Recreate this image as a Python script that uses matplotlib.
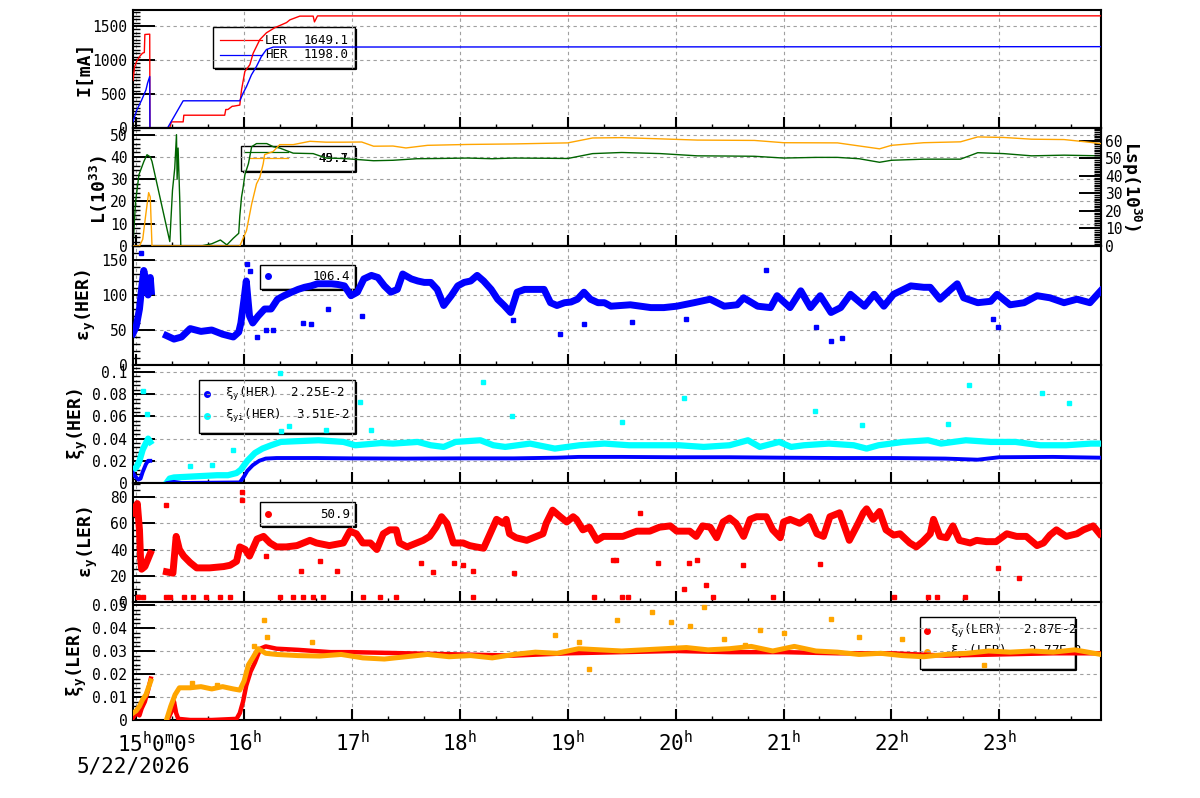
import matplotlib
matplotlib.use('Agg')
import matplotlib.pyplot as plt
from matplotlib.ticker import MultipleLocator
from matplotlib.patches import Rectangle

nan = float('nan')

# time axis: hours after 15:00 on 5/22/2026
hour_labels = ['16', '17', '18', '19', '20', '21', '22', '23']
date_label = '5/22/2026'

# beam currents [mA]
cur_ler_t = [-0.03, -0.015, 0.004, 0.033, 0.058, 0.075, 0.08, 0.125, 0.127, 0.31, 0.326, 0.435, 0.441,
             0.82, 0.83, 0.85, 0.89, 0.9, 0.96, 0.976, 1.007, 1.053, 1.084, 1.146, 1.207, 1.285, 1.393,
             1.424, 1.516, 1.64, 1.652, 1.665, 1.68, 8.94]
cur_ler = [700, 900, 980, 1055, 1100, 1110, 1375, 1380, 0, 0, 90, 90, 188, 188, 272, 272, 320, 320,
           337, 560, 832, 930, 1100, 1300, 1400, 1475, 1550, 1590, 1645, 1645, 1560, 1600, 1648, 1649]
cur_her_t = [-0.03, 0.004, 0.05, 0.09, 0.105, 0.125, 0.127, 0.29, 0.435, 0.96, 0.99, 1.022, 1.068,
             1.115, 1.161, 1.207, 1.27, 8.94]
cur_her = [92, 260, 410, 560, 660, 757, 0, 0, 400, 400, 510, 609, 782, 906, 1054, 1154, 1190, 1196]
cur_legend = ['1649.1', '1198.0']

# luminosity L (10^33) and specific luminosity Lsp (10^30)
lum_pts = [(-0.03, 0), (-0.006, 20), (0.025, 32), (0.071, 38), (0.1, 41), (0.13, 40), (0.146, 38),
           (0.311, 2), (0.336, 25), (0.357, 35), (0.373, 50), (0.379, 30), (0.388, 44), (0.404, 20),
           (0.413, 0), (0.6, 0), (0.7, 1), (0.78, 2.7), (0.84, 0.5), (0.9, 3.5), (0.95, 5.7),
           (0.96, 13.5), (0.976, 22), (0.99, 26), (1.007, 32), (1.04, 37), (1.07, 44.6), (1.115, 46),
           (1.21, 46), (1.27, 44.6), (1.33, 44), (1.455, 41.7), (1.64, 41.5), (1.76, 39.5),
           (1.92, 39.3), (2.09, 38.7), (2.2, 38.3), (2.38, 38.5), (2.6, 39.2), (2.8, 39.3),
           (3.07, 39.5), (3.3, 39.2), (3.5, 39.5), (3.8, 39.4), (4.0, 39.3), (4.23, 41.5), (4.5, 42),
           (4.86, 41.5), (5.2, 40.5), (5.5, 40.4), (5.73, 40.3), (6.0, 39.5), (6.3, 39.8), (6.5, 39.8),
           (6.7, 39.2), (6.89, 37.6), (7.0, 38.5), (7.3, 39), (7.64, 39), (7.8, 41.9), (8.04, 41.5),
           (8.3, 40.5), (8.6, 40.8), (8.94, 40.5)]
lsp_pts = [(-0.03, 0), (0.03, 0), (0.06, 3.8), (0.09, 18.7), (0.115, 30.5), (0.13, 28), (0.146, 0),
           (0.96, 0), (1.022, 8.8), (1.07, 24), (1.115, 35.5), (1.146, 39.3), (1.177, 47), (1.19, 52.2),
           (1.27, 54), (1.33, 57.9), (1.455, 57.9), (1.61, 59.8), (1.76, 59.3), (1.92, 59.3),
           (2.09, 59.4), (2.2, 57), (2.38, 57.1), (2.5, 56), (2.7, 57.5), (3.07, 58), (3.5, 58.3),
           (4.0, 58.9), (4.23, 61.7), (4.5, 61.9), (4.86, 61.2), (5.2, 60.5), (5.73, 60.3), (6.0, 59),
           (6.5, 58.9), (6.89, 55.5), (7.0, 57.5), (7.3, 59), (7.64, 59.5), (7.8, 62.3), (8.04, 62),
           (8.3, 61), (8.6, 60.8), (8.8, 59.5), (8.94, 58.5)]
lum_legend = ['45.1', '49.7']

# vertical emittance HER
emit_her_pts = [(-0.03, 45), (0.0, 55), (0.03, 80), (0.05, 110), (0.07, 135), (0.09, 120), (0.11, 100),
                (0.13, 125), (0.14, 105), (0.2, nan), (0.28, 42), (0.35, 37), (0.42, 40), (0.5, 52),
                (0.6, 48), (0.7, 50), (0.8, 44), (0.9, 40), (0.95, 47), (0.97, 60), (1.0, 95), (1.02, 120),
                (1.05, 70), (1.08, 60), (1.13, 70), (1.19, 80), (1.25, 80), (1.31, 94), (1.37, 99),
                (1.44, 104), (1.5, 108), (1.56, 111), (1.62, 113), (1.68, 116), (1.81, 116), (1.87, 115),
                (1.93, 113), (1.99, 99), (2.05, 104), (2.11, 123), (2.18, 128), (2.24, 125), (2.3, 113),
                (2.36, 104), (2.42, 108), (2.47, 130), (2.55, 123), (2.61, 120), (2.67, 118), (2.73, 118),
                (2.79, 108), (2.85, 85), (2.92, 99), (2.98, 113), (3.04, 118), (3.1, 120), (3.16, 128),
                (3.22, 120), (3.29, 108), (3.35, 94), (3.41, 85), (3.47, 75), (3.53, 104), (3.6, 108),
                (3.66, 108), (3.78, 108), (3.84, 89), (3.9, 85), (3.97, 89), (4.03, 90), (4.09, 94),
                (4.15, 104), (4.21, 94), (4.28, 89), (4.34, 89), (4.4, 84), (4.58, 86), (4.77, 82),
                (4.89, 82), (5.01, 84), (5.17, 89), (5.32, 94), (5.45, 84), (5.57, 86), (5.63, 96),
                (5.76, 84), (5.88, 82), (5.94, 99), (6.06, 82), (6.16, 106), (6.25, 82), (6.34, 99),
                (6.44, 75), (6.53, 82), (6.62, 101), (6.75, 84), (6.84, 101), (6.93, 84), (7.02, 101),
                (7.18, 113), (7.3, 111), (7.36, 111), (7.45, 94), (7.55, 108), (7.61, 116), (7.67, 96),
                (7.8, 89), (7.92, 91), (7.98, 101), (8.1, 86), (8.23, 89), (8.35, 99), (8.47, 96),
                (8.6, 89), (8.72, 94), (8.84, 89), (8.94, 106)]
emit_her_out = [(0.04, 160), (1.03, 145), (1.05, 135), (1.12, 40), (1.2, 50), (1.27, 50), (1.55, 60),
                (1.62, 58), (1.78, 80), (2.09, 70), (3.49, 65), (3.93, 45), (4.15, 58), (5.84, 136),
                (6.44, 34), (6.54, 38), (7.94, 66), (7.99, 54), (4.6, 62), (5.1, 66), (6.3, 55)]
emit_her_legend = '106.4'

# beam-beam parameters HER
xi_her_pts = [(-0.03, 0.009), (-0.01, 0.006), (0.02, 0.003), (0.04, 0.004), (0.06, 0.01), (0.09, 0.017),
              (0.11, 0.02), (0.13, 0.02), (0.2, nan), (0.29, 0.0), (0.35, 0.001), (0.42, 0.0),
              (0.96, 0.0005), (1.0, 0.006), (1.03, 0.011), (1.08, 0.016), (1.14, 0.02), (1.2, 0.022),
              (1.3, 0.0225), (1.67, 0.0225), (2.0, 0.0222), (2.5, 0.022), (3.0, 0.0222), (3.5, 0.0222),
              (3.9, 0.0228), (4.1, 0.0235), (4.5, 0.0235), (5.0, 0.0232), (5.5, 0.0232), (6.0, 0.0228),
              (6.5, 0.0225), (7.0, 0.0225), (7.5, 0.022), (7.8, 0.021), (8.0, 0.0232), (8.5, 0.0235),
              (8.94, 0.0228)]
xii_her_pts = [(-0.03, 0.012), (0.0, 0.014), (0.03, 0.02), (0.06, 0.03), (0.09, 0.036), (0.11, 0.04),
               (0.13, 0.037), (0.2, nan), (0.28, 0.0), (0.31, 0.004), (0.35, 0.005), (0.45, 0.0055),
               (0.55, 0.006), (0.65, 0.0065), (0.75, 0.007), (0.85, 0.007), (0.93, 0.009), (0.97, 0.012),
               (1.03, 0.02), (1.1, 0.027), (1.17, 0.031), (1.25, 0.034), (1.34, 0.037), (1.45, 0.0375),
               (1.69, 0.0385), (1.92, 0.037), (2.03, 0.034), (2.27, 0.036), (2.38, 0.0355), (2.61, 0.037),
               (2.73, 0.034), (2.85, 0.0325), (2.96, 0.037), (3.19, 0.0385), (3.31, 0.034), (3.42, 0.0325),
               (3.65, 0.0355), (3.88, 0.031), (4.11, 0.034), (4.34, 0.0355), (4.57, 0.034), (4.8, 0.034),
               (5.03, 0.034), (5.26, 0.0325), (5.5, 0.034), (5.67, 0.0385), (5.78, 0.0325), (5.96, 0.037),
               (6.07, 0.0325), (6.19, 0.034), (6.42, 0.0355), (6.65, 0.034), (6.77, 0.031), (6.88, 0.034),
               (7.11, 0.037), (7.34, 0.0385), (7.46, 0.0355), (7.69, 0.0385), (7.92, 0.037), (8.15, 0.037),
               (8.38, 0.034), (8.62, 0.034), (8.85, 0.0355), (8.94, 0.0355)]
xii_her_out = [(0.06, 0.083), (0.1, 0.062), (1.33, 0.099), (1.34, 0.047), (1.42, 0.051), (1.76, 0.048),
               (2.07, 0.073), (2.18, 0.048), (3.21, 0.091), (3.48, 0.06), (4.5, 0.055), (5.08, 0.077),
               (6.29, 0.065), (6.73, 0.052), (7.52, 0.053), (7.72, 0.088), (8.4, 0.081), (8.65, 0.072),
               (0.9, 0.03), (0.5, 0.015), (0.7, 0.016)]
xi_her_legend = ['2.25E-2', '3.51E-2']

# vertical emittance LER
emit_ler_pts = [(-0.03, 68), (-0.01, 72), (0.01, 75), (0.03, 55), (0.04, 33), (0.05, 25), (0.08, 27),
                (0.11, 33), (0.13, 37), (0.2, nan), (0.28, 23), (0.34, 22), (0.37, 50), (0.4, 40),
                (0.44, 35), (0.5, 30), (0.56, 26), (0.68, 26), (0.81, 27), (0.87, 28), (0.93, 31),
                (0.96, 42), (1.01, 40), (1.05, 35), (1.12, 48), (1.18, 50), (1.24, 45), (1.3, 42),
                (1.39, 42), (1.49, 43), (1.61, 47), (1.67, 45), (1.79, 43), (1.92, 45), (1.98, 54),
                (2.04, 52), (2.1, 45), (2.17, 45), (2.23, 40), (2.29, 52), (2.35, 55), (2.41, 55),
                (2.44, 45), (2.51, 42), (2.6, 45), (2.66, 47), (2.72, 50), (2.78, 57), (2.83, 65),
                (2.88, 60), (2.94, 45), (3.03, 45), (3.09, 43), (3.15, 42), (3.22, 41), (3.28, 52),
                (3.34, 63), (3.4, 60), (3.43, 63), (3.46, 52), (3.52, 49), (3.62, 47), (3.71, 50),
                (3.77, 52), (3.8, 60), (3.86, 70), (3.93, 65), (3.99, 61), (4.05, 65), (4.08, 63),
                (4.14, 55), (4.2, 57), (4.27, 47), (4.33, 50), (4.39, 50), (4.51, 50), (4.64, 54),
                (4.76, 54), (4.85, 57), (4.95, 58), (5.01, 54), (5.13, 54), (5.19, 50), (5.25, 58),
                (5.32, 57), (5.38, 49), (5.44, 61), (5.5, 64), (5.56, 60), (5.63, 50), (5.69, 63),
                (5.75, 65), (5.84, 65), (5.9, 55), (5.97, 49), (6.0, 61), (6.06, 63), (6.15, 60),
                (6.24, 65), (6.31, 52), (6.37, 50), (6.43, 65), (6.52, 68), (6.61, 47), (6.68, 58),
                (6.74, 68), (6.77, 71), (6.83, 63), (6.89, 69), (6.95, 55), (7.02, 51), (7.08, 52),
                (7.17, 45), (7.23, 42), (7.29, 46), (7.36, 52), (7.39, 63), (7.45, 50), (7.51, 49),
                (7.57, 58), (7.63, 47), (7.73, 45), (7.79, 47), (7.88, 46), (7.97, 46), (8.07, 52),
                (8.16, 50), (8.25, 50), (8.35, 43), (8.41, 45), (8.47, 51), (8.53, 55), (8.62, 50),
                (8.72, 52), (8.78, 55), (8.87, 58), (8.93, 52)]
emit_ler_out = [(0.02, 4), (0.06, 4), (0.28, 4), (0.31, 4), (0.44, 4), (0.53, 4), (0.65, 4), (0.78, 4),
                (0.87, 4), (1.33, 4), (1.45, 4), (1.55, 4), (1.64, 4), (1.73, 4), (2.1, 4), (2.26, 4),
                (2.41, 4), (3.12, 4), (4.24, 4), (4.5, 4), (4.56, 4), (5.35, 4), (5.9, 4), (7.02, 4),
                (7.34, 4), (7.42, 4), (7.68, 4), (0.28, 74), (0.98, 84), (0.98, 78), (4.45, 32),
                (4.67, 68), (4.42, 32), (4.84, 30), (5.08, 10), (5.28, 13), (5.12, 30), (5.2, 32),
                (5.62, 28), (6.34, 29), (8.18, 18), (7.99, 26), (1.7, 31), (1.86, 24), (1.53, 24),
                (2.95, 30), (3.03, 28), (3.12, 24), (3.5, 22), (2.75, 23), (2.64, 30), (1.2, 35)]
emit_ler_legend = '50.9'

# beam-beam parameters LER
xi_ler_pts = [(-0.03, 0.001), (0.0, 0.003), (0.03, 0.002), (0.05, 0.005), (0.08, 0.008), (0.11, 0.013),
              (0.135, 0.018), (0.2, nan), (0.29, 0.0), (0.33, 0.004), (0.35, 0.008), (0.37, 0.003),
              (0.39, 0.0005), (0.5, 0.0), (0.7, 0.0), (0.93, 0.0005), (0.96, 0.003), (0.99, 0.008),
              (1.02, 0.015), (1.06, 0.021), (1.1, 0.025), (1.15, 0.031), (1.2, 0.032), (1.3, 0.031),
              (1.5, 0.0305), (1.8, 0.0295), (2.0, 0.0295), (2.5, 0.029), (3.0, 0.0285), (3.5, 0.028),
              (4.0, 0.029), (4.5, 0.0295), (5.0, 0.03), (5.5, 0.0295), (6.0, 0.0295), (6.5, 0.029),
              (7.0, 0.029), (7.5, 0.028), (8.0, 0.0285), (8.5, 0.029), (8.94, 0.029)]
xii_ler_pts = [(-0.03, 0.003), (0.0, 0.004), (0.03, 0.006), (0.06, 0.009), (0.09, 0.011), (0.12, 0.015),
               (0.135, 0.017), (0.2, nan), (0.28, 0.0), (0.32, 0.006), (0.36, 0.011), (0.4, 0.014),
               (0.5, 0.014), (0.6, 0.0145), (0.7, 0.0135), (0.8, 0.0145), (0.9, 0.0135), (0.96, 0.013),
               (1.0, 0.017), (1.04, 0.024), (1.08, 0.027), (1.13, 0.031), (1.2, 0.029), (1.3, 0.0285),
               (1.5, 0.028), (1.7, 0.0278), (1.9, 0.0285), (2.1, 0.027), (2.3, 0.0265), (2.5, 0.0275),
               (2.7, 0.0285), (2.9, 0.0275), (3.1, 0.028), (3.3, 0.027), (3.5, 0.0285), (3.7, 0.0295),
               (3.9, 0.029), (4.1, 0.031), (4.3, 0.0305), (4.5, 0.03), (4.7, 0.0305), (4.9, 0.031),
               (5.1, 0.0315), (5.3, 0.0305), (5.5, 0.031), (5.7, 0.032), (5.9, 0.03), (6.1, 0.032),
               (6.3, 0.03), (6.5, 0.0295), (6.7, 0.0285), (6.9, 0.029), (7.1, 0.028), (7.3, 0.0275),
               (7.5, 0.0285), (7.7, 0.029), (7.9, 0.03), (8.1, 0.0295), (8.3, 0.03), (8.5, 0.0295),
               (8.7, 0.0305), (8.94, 0.0285)]
xii_ler_out = [(1.18, 0.0435), (1.21, 0.036), (1.09, 0.032), (1.63, 0.0338), (4.78, 0.047), (5.26, 0.049),
               (5.13, 0.041), (4.46, 0.0435), (6.44, 0.044), (5.78, 0.039), (3.88, 0.037), (4.2, 0.022),
               (7.86, 0.024), (4.96, 0.0425), (5.45, 0.035), (5.64, 0.0325), (6.0, 0.038), (6.7, 0.036),
               (7.1, 0.035), (4.1, 0.034), (0.52, 0.016), (0.75, 0.015)]
xi_ler_legend = ['2.87E-2', '2.77E-2']

# ---------------------------------------------------------------- layout
plt.rcParams['font.family'] = 'DejaVu Sans Mono'
plt.rcParams['mathtext.default'] = 'regular'

W, H = 1200, 798
LEFT, RIGHT = 133, 1100.7
rows = [(10, 128), (128, 246), (246, 365), (365, 483), (483, 602), (602, 720)]
XMIN, XMAX = -0.03, 8.94

RED, BLUE, CYAN = '#ff0000', '#0000ff', '#00ffff'
GREEN, ORANGE = '#006400', '#ffa500'

fig = plt.figure(figsize=(W / 100, H / 100), dpi=100)
axes = []
for top, bot in rows:
    axes.append(fig.add_axes([LEFT / W, 1 - bot / H, (RIGHT - LEFT) / W, (bot - top) / H]))


def style(ax, ylim, ticks, labels, minor):
    ax.set_xlim(XMIN, XMAX)
    ax.set_ylim(*ylim)
    ax.set_xticks(range(0, 9))
    ax.xaxis.set_minor_locator(MultipleLocator(1 / 3))
    ax.set_yticks(ticks)
    ax.set_yticklabels(labels)
    ax.yaxis.set_minor_locator(MultipleLocator(minor))
    ax.tick_params(axis='y', which='major', direction='in', length=16, width=1.4, labelsize=10.5, pad=4)
    ax.tick_params(axis='y', which='minor', direction='in', length=5, width=1.0)
    ax.tick_params(axis='x', which='major', direction='in', length=8, width=1.5, labelbottom=False)
    ax.tick_params(axis='x', which='minor', direction='in', length=3, width=1.0)
    ax.grid(True, which='major', ls=(0, (3, 3)), color='#a0a0a0', lw=0.8)
    for s in ax.spines.values():
        s.set_linewidth(1.5)


def unzip(pts):
    return [p[0] for p in pts], [p[1] for p in pts]


def axpt(i, px, py):
    top, bot = rows[i]
    return (px - LEFT) / (RIGHT - LEFT), (bot - py) / (bot - top)


def legend_box(i, x0, y0, x1, y1):
    ax = axes[i]
    ax0, ay1 = axpt(i, x0, y0)
    ax1, ay0 = axpt(i, x1, y1)
    ax.add_patch(Rectangle((ax0, ay0), ax1 - ax0, ay1 - ay0, transform=ax.transAxes, fill=False,
                           ec='black', lw=1.0, zorder=1, clip_on=False))
    # ROOT-like shadow on the bottom and right edges
    sx0, sy0 = axpt(i, x0 + 2, y1 + 1)
    sx1, sy1 = axpt(i, x1 + 1, y0 + 2)
    ax.plot([sx0, sx1, sx1], [sy0, sy0, sy1], color='black', lw=1.6, transform=ax.transAxes,
            zorder=1, clip_on=False, solid_capstyle='butt')


def legend_text(i, px, py, s, ha='left'):
    ax = axes[i]
    x, y = axpt(i, px, py)
    ax.text(x, y, s, transform=ax.transAxes, ha=ha, va='center', fontsize=9, zorder=1)


def legend_line(i, x0, x1, py, color):
    ax = axes[i]
    a, y = axpt(i, x0, py)
    b, _ = axpt(i, x1, py)
    ax.plot([a, b], [y, y], color=color, lw=0.9, transform=ax.transAxes, zorder=1)


def legend_dot(i, px, py, color):
    ax = axes[i]
    x, y = axpt(i, px, py)
    ax.plot([x], [y], 'o', color=color, ms=4, transform=ax.transAxes, zorder=1)


def band(ax, pts, color, lw):
    t, v = unzip(pts)
    ax.plot(t, v, '-', color=color, lw=lw, zorder=3, solid_joinstyle='round')


def dots(ax, pts, color):
    t, v = unzip(pts)
    ax.plot(t, v, 's', color=color, ms=2.4, ls='none', zorder=3)


# panel 1: currents
ax = axes[0]
style(ax, (0, 1735), [0, 500, 1000, 1500], ['0', '500', '1000', '1500'], 50)
ax.plot(cur_ler_t, cur_ler, color=RED, lw=1.0, zorder=3)
ax.plot(cur_her_t, cur_her, color=BLUE, lw=1.0, zorder=3)
legend_box(0, 213, 27, 355, 68)
legend_line(0, 220, 262, 40, RED)
legend_line(0, 220, 262, 55, BLUE)
legend_text(0, 265, 40, 'LER')
legend_text(0, 265, 55, 'HER')
legend_text(0, 349, 40, cur_legend[0], ha='right')
legend_text(0, 349, 55, cur_legend[1], ha='right')

# panel 2: luminosity
ax = axes[1]
style(ax, (0, 53), [0, 10, 20, 30, 40, 50], ['0', '10', '20', '30', '40', '50'], 2)
band(ax, lum_pts, GREEN, 1.0)
axr = ax.twinx()
axr.set_xlim(XMIN, XMAX)
axr.set_ylim(0, 67.4)
axr.set_yticks([0, 10, 20, 30, 40, 50, 60])
axr.yaxis.set_minor_locator(MultipleLocator(1))
axr.tick_params(axis='y', which='major', direction='in', length=16, width=1.4, labelsize=10.5, pad=3)
axr.tick_params(axis='y', which='minor', direction='in', length=5, width=1.0)
for s in axr.spines.values():
    s.set_linewidth(1.5)
band(axr, lsp_pts, ORANGE, 1.0)
legend_box(1, 241, 146, 355, 171)
legend_line(1, 244, 288, 152, GREEN)
legend_line(1, 250, 288, 158, ORANGE)
legend_text(1, 348, 158, lum_legend[0], ha='right')
legend_text(1, 348, 158, lum_legend[1], ha='right')

# panel 3: HER emittance
ax = axes[2]
style(ax, (0, 170), [0, 50, 100, 150], ['0', '50', '100', '150'], 10)
band(ax, emit_her_pts, BLUE, 5.0)
dots(ax, emit_her_out, BLUE)
legend_box(2, 260, 265, 355, 289)
legend_dot(2, 268, 276, BLUE)
legend_text(2, 350, 277, emit_her_legend, ha='right')

# panel 4: HER beam-beam
ax = axes[3]
style(ax, (0, 0.1063), [0, 0.02, 0.04, 0.06, 0.08, 0.1], ['0', '0.02', '0.04', '0.06', '0.08', '0.1'], 0.004)
band(ax, xii_her_pts, CYAN, 4.5)
dots(ax, xii_her_out, CYAN)
band(ax, xi_her_pts, BLUE, 2.8)
legend_box(3, 199, 380, 355, 433)
legend_dot(3, 207, 394, BLUE)
legend_dot(3, 207, 416, CYAN)
legend_text(3, 225, 394, '\u03be$_y$(HER)  ' + xi_her_legend[0])
legend_text(3, 225, 416, '\u03be$_{yi}$(HER)  ' + xi_her_legend[1])

# panel 5: LER emittance
ax = axes[4]
style(ax, (0, 90.7), [0, 20, 40, 60, 80], ['0', '20', '40', '60', '80'], 5)
band(ax, emit_ler_pts, RED, 5.0)
dots(ax, emit_ler_out, RED)
legend_box(4, 260, 502, 355, 526)
legend_dot(4, 268, 514, RED)
legend_text(4, 350, 514, emit_ler_legend, ha='right')

# panel 6: LER beam-beam
ax = axes[5]
style(ax, (0, 0.0513), [0, 0.01, 0.02, 0.03, 0.04, 0.05], ['0', '0.01', '0.02', '0.03', '0.04', '0.05'], 0.002)
band(ax, xi_ler_pts, RED, 3.2)
band(ax, xii_ler_pts, ORANGE, 3.6)
dots(ax, xii_ler_out, ORANGE)
legend_box(5, 920, 617, 1075, 669)
legend_dot(5, 927, 631, RED)
legend_dot(5, 927, 652, ORANGE)
legend_text(5, 950, 631, '\u03be$_y$(LER)   ' + xi_ler_legend[0])
legend_text(5, 950, 652, '\u03be$_{yi}$(LER)   ' + xi_ler_legend[1])

# bottom time axis
ax = axes[5]
ax.tick_params(axis='x', which='major', labelbottom=True, labelsize=15, pad=7)
ax.set_xticklabels([''] + [h + '$^h$' for h in hour_labels])
fig.text(117 / W, 1 - 731 / H, '15$^h$0$^m$0$^s$', ha='left', va='top', fontsize=15)
fig.text(77 / W, 1 - 757 / H, date_label, ha='left', va='top', fontsize=15)

# axis titles
ylabels = [('I[mA]', 84, 69), ('L(10$^{33}$)', 99, 190), ('\u03b5$_y$(HER)', 86, 305),
           ('\u03be$_y$(HER)', 78, 424), ('\u03b5$_y$(LER)', 88, 542), ('\u03be$_y$(LER)', 77, 661)]
for s, px, py in ylabels:
    fig.text(px / W, 1 - py / H, s, rotation=90, ha='center', va='center', fontsize=13, fontweight='bold')
fig.text(1131 / W, 1 - 186 / H, 'Lsp(10$^{30}$)', rotation=-90, ha='center', va='center',
         fontsize=13, fontweight='bold')

fig.savefig('out.png', dpi=100)
